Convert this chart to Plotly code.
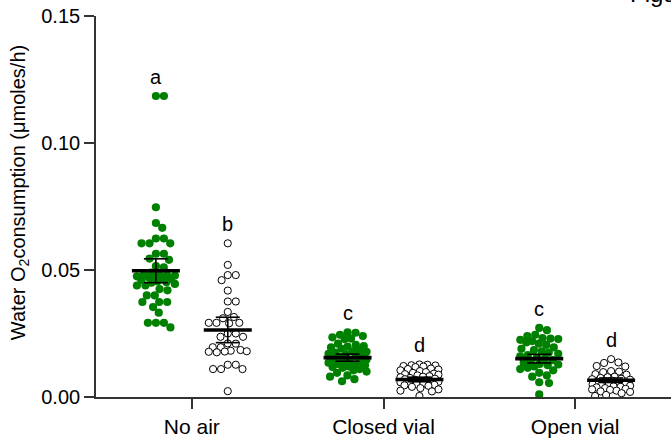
import numpy as np
import plotly.graph_objects as go

# ---------------- data ----------------
categories = ["No air", "Closed vial", "Open vial"]

no_air_green = [0.1185, 0.1185, 0.0747, 0.0685, 0.0666, 0.0624, 0.0624,
                0.0605, 0.0605, 0.0605, 0.0564, 0.0564, 0.0545, 0.0540,
                0.0515, 0.0510, 0.0490, 0.0485, 0.0480, 0.0475, 0.0480,
                0.0478, 0.0475, 0.0470, 0.0468, 0.0465, 0.0460, 0.0455,
                0.0452, 0.0450, 0.0445, 0.0439, 0.0439, 0.0425, 0.0420,
                0.0400, 0.0400, 0.0374, 0.0374, 0.0374, 0.0354, 0.0332,
                0.0292, 0.0292, 0.0292, 0.0274]
no_air_white = [0.0605, 0.0520, 0.0480, 0.0480, 0.0460, 0.0419, 0.0376,
                0.0376, 0.0335, 0.0315, 0.0310, 0.0292, 0.0292, 0.0292,
                0.0290, 0.0250, 0.0250, 0.0237, 0.0237, 0.0211, 0.0210,
                0.0196, 0.0196, 0.0185, 0.0182, 0.0179, 0.0178, 0.0176,
                0.0180, 0.0127, 0.0127, 0.0110, 0.0110, 0.0110, 0.0023]
closed_green = [0.0255, 0.0253, 0.0245, 0.0240, 0.0235, 0.0230, 0.0228,
                0.0210, 0.0205, 0.0200, 0.0198, 0.0195, 0.0190,
                0.0185, 0.0180, 0.0178, 0.0175, 0.0170, 0.0168, 0.0165,
                0.0160, 0.0155, 0.0150, 0.0148, 0.0145,
                0.0140, 0.0138, 0.0135, 0.0130, 0.0128, 0.0125, 0.0120,
                0.0118, 0.0115, 0.0110, 0.0105, 0.0100, 0.0095, 0.0085,
                0.0080, 0.0070, 0.0062]
closed_white = [0.0128, 0.0127, 0.0125, 0.0124, 0.0122, 0.0120, 0.0118,
                0.0112, 0.0110, 0.0108, 0.0105, 0.0102,
                0.0098, 0.0095, 0.0092, 0.0090, 0.0088, 0.0085,
                0.0082, 0.0080, 0.0078, 0.0075, 0.0072, 0.0070, 0.0068,
                0.0066, 0.0064, 0.0062, 0.0060, 0.0058, 0.0055, 0.0052,
                0.0050, 0.0048, 0.0046, 0.0044, 0.0040, 0.0035, 0.0030,
                0.0025, 0.0022, 0.0004]
open_green = [0.0272, 0.0263, 0.0245, 0.0240, 0.0232, 0.0230, 0.0228, 0.0225,
              0.0220, 0.0215, 0.0210, 0.0205, 0.0195, 0.0190, 0.0185,
              0.0180, 0.0175, 0.0170, 0.0165, 0.0160, 0.0155,
              0.0150, 0.0145, 0.0140, 0.0135, 0.0130, 0.0128, 0.0125,
              0.0120, 0.0115, 0.0110, 0.0105, 0.0095, 0.0085, 0.0080,
              0.0058, 0.0055, 0.0010]
open_white = [0.0149, 0.0136, 0.0134, 0.0122, 0.0120, 0.0102, 0.0100,
              0.0098, 0.0090, 0.0088, 0.0080, 0.0078, 0.0075, 0.0072,
              0.0070, 0.0068, 0.0065, 0.0062, 0.0060, 0.0055, 0.0052,
              0.0050, 0.0048, 0.0046, 0.0044, 0.0042, 0.0040, 0.0038,
              0.0035, 0.0032, 0.0030, 0.0028, 0.0025, 0.0022, 0.0020,
              0.0015, 0.0008, 0.0004]

green_series = [no_air_green, closed_green, open_green]
white_series = [no_air_white, closed_white, open_white]

# summary statistics shown by the bars (mean and error)
green_means = [0.0497, 0.0155, 0.0151]
green_errors = [0.0047, 0.0014, 0.0017]
white_means = [0.0264, 0.0069, 0.0066]
white_errors = [0.0050, 0.0009, 0.0009]

green_letters = ["a", "c", "c"]
white_letters = ["b", "d", "d"]

y_ticks = [0.00, 0.05, 0.10, 0.15]
y_title = "Water O<sub>2</sub>consumption (\u03bcmoles/h)"

# ---------------- layout geometry ----------------
W, H = 671, 438
ML, MR, MT, MB = 96, 0, 16, 37
PW, PH = W - ML - MR, H - MT - MB
XR = [0.5, 3.5]
YR = [0.0, 0.15]
px_x = PW / (XR[1] - XR[0])
px_y = PH / (YR[1] - YR[0])
SUB = 0.1875          # sub-group offset from category centre
DOT = 8.0             # collision distance in px
MAXHALF = 19.0        # max half-width of a swarm in px
FONT = "Liberation Sans, Arial, sans-serif"


def swarm(values, d, maxhalf):
    ys = np.asarray(values) * px_y
    order = np.argsort(-ys)
    xs = np.zeros(len(ys))
    placed = []
    grid = np.linspace(-maxhalf, maxhalf, 77)
    for i in order:
        y = ys[i]
        near = [j for j in placed if abs(ys[j] - y) < d]
        cands = [0.0]
        for j in near:
            dx = np.sqrt(max(d * d - (ys[j] - y) ** 2, 0.0))
            cands += [xs[j] + dx, xs[j] - dx]
        cands = [c for c in cands if abs(c) <= maxhalf + 1e-6]
        cands.sort(key=lambda c: (abs(c), -c))
        chosen = None
        for c in cands:
            if all((c - xs[j]) ** 2 + (y - ys[j]) ** 2 >= d * d - 1e-6 for j in near):
                chosen = c
                break
        if chosen is None:
            # no free slot inside the width limit: take the least crowded spot
            best, bestd = 0.0, -1.0
            for c in grid:
                md = min((c - xs[j]) ** 2 + (y - ys[j]) ** 2 for j in near)
                if md > bestd + 1e-9:
                    best, bestd = c, md
            chosen = best
        xs[i] = chosen
        placed.append(i)
    return xs / px_x


fig = go.Figure()

for k, cat in enumerate(categories):
    cx = k + 1
    g = green_series[k]
    w = white_series[k]
    fig.add_trace(go.Scatter(
        x=cx - SUB + swarm(g, DOT, MAXHALF), y=g, mode="markers",
        marker=dict(size=8.2, color="#008000", line=dict(width=0)),
        hoverinfo="y", showlegend=False))
    fig.add_trace(go.Scatter(
        x=cx + SUB + swarm(w, DOT, MAXHALF), y=w, mode="markers",
        marker=dict(size=7.2, color="white", line=dict(width=1, color="black")),
        hoverinfo="y", showlegend=False))

# mean bars and error bars
HALF_MEAN = 24 / px_x
HALF_CAP = 12 / px_x
for k in range(len(categories)):
    for cx, m, e in [(k + 1 - SUB, green_means[k], green_errors[k]),
                     (k + 1 + SUB, white_means[k], white_errors[k])]:
        fig.add_trace(go.Scatter(
            x=[cx, cx, None, cx - HALF_CAP, cx + HALF_CAP, None, cx - HALF_CAP, cx + HALF_CAP],
            y=[m - e, m + e, None, m + e, m + e, None, m - e, m - e],
            mode="lines", line=dict(color="black", width=1.6),
            hoverinfo="skip", showlegend=False))
        fig.add_trace(go.Scatter(
            x=[cx - HALF_MEAN, cx + HALF_MEAN], y=[m, m],
            mode="lines", line=dict(color="black", width=3.6),
            hoverinfo="skip", showlegend=False))

annotations = []
for k in range(len(categories)):
    for cx, vals, lab in [(k + 1 - SUB, green_series[k], green_letters[k]),
                          (k + 1 + SUB, white_series[k], white_letters[k])]:
        annotations.append(dict(
            x=cx, y=max(vals), xref="x", yref="y", text=lab, showarrow=False,
            yshift=19, yanchor="middle",
            font=dict(family=FONT, size=20, color="black")))

annotations.append(dict(
    x=(19 - ML) / PW, y=(H - MB - 195) / PH, xref="paper", yref="paper",
    text=y_title, textangle=-90, showarrow=False,
    xanchor="center", yanchor="middle",
    font=dict(family=FONT, size=20, color="black")))

annotations.append(dict(
    x=(628 - ML) / PW, y=1 + (MT - 9) / PH, xref="paper", yref="paper",
    text="Figure 1", showarrow=False, xanchor="left", yanchor="bottom",
    font=dict(family=FONT, size=24, color="black")))

fig.update_layout(
    width=W, height=H,
    margin=dict(l=ML, r=MR, t=MT, b=MB, pad=0),
    paper_bgcolor="white", plot_bgcolor="white",
    showlegend=False,
    annotations=annotations,
    xaxis=dict(range=XR, tickmode="array", tickvals=[1, 2, 3], ticktext=categories,
               showgrid=False, zeroline=False, showline=True, linecolor="#333333",
               linewidth=1.6, ticks="outside", ticklen=10, tickwidth=1.6,
               tickcolor="#333333", tickfont=dict(family=FONT, size=21, color="black")),
    yaxis=dict(range=YR, tickmode="array", tickvals=y_ticks,
               ticktext=[f"{v:.2f}" for v in y_ticks],
               showgrid=False, zeroline=False, showline=True, linecolor="#333333",
               linewidth=1.6, ticks="outside", ticklen=10, tickwidth=1.6,
               tickcolor="#333333", tickfont=dict(family=FONT, size=20, color="black")),
)

fig.write_html("out.html")
